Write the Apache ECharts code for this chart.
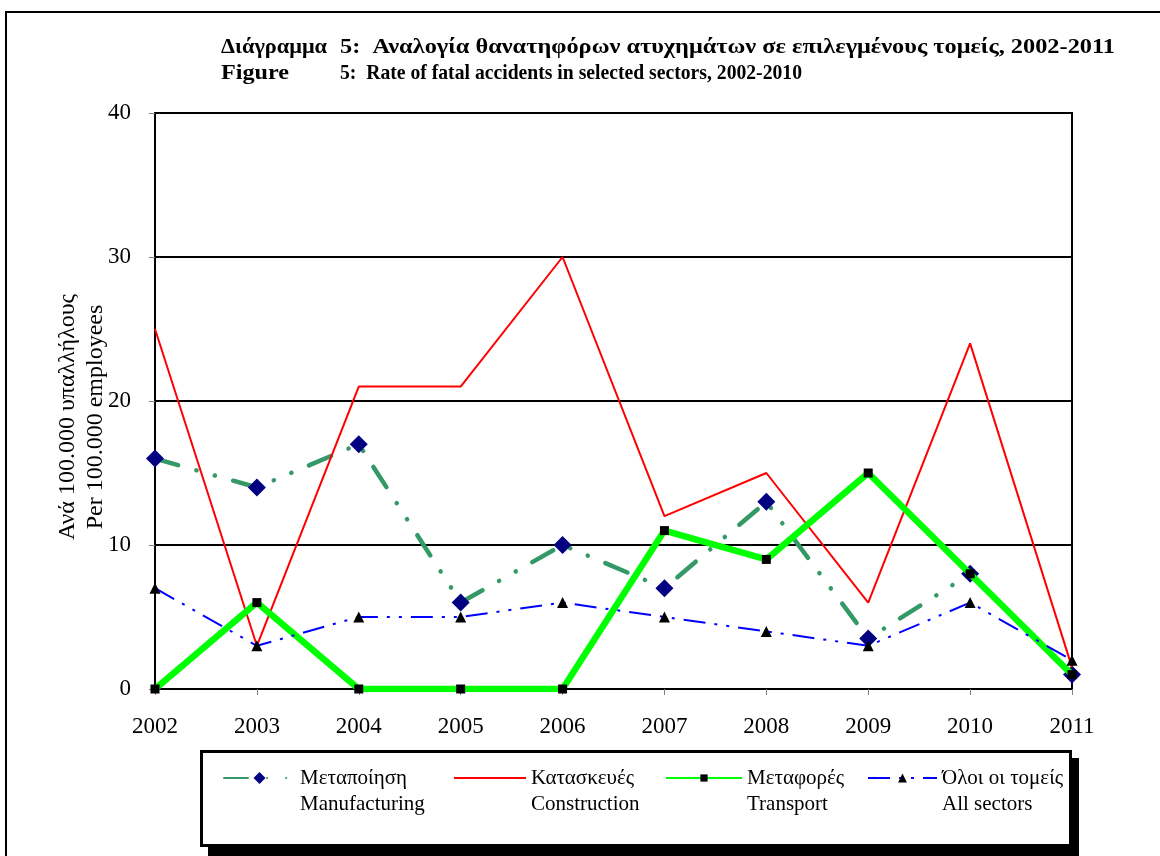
<!DOCTYPE html>
<html>
<head>
<meta charset="utf-8">
<script src="https://cdn.jsdelivr.net/npm/echarts@6/dist/echarts.min.js"></script>
<style>
  html, body { margin: 0; padding: 0; background: #fff; }
  #chart { width: 1160px; height: 856px; }
</style>
</head>
<body>
<div id="chart"></div>
<script>
// data
const years = ['2002', '2003', '2004', '2005', '2006', '2007', '2008', '2009', '2010', '2011'];
const manufacturing = [16, 14, 17, 6, 10, 7, 13, 3.5, 8, 1];
const construction = [25, 3, 21, 21, 30, 12, 15, 6, 24, 1.5];
const transport = [0, 6, 0, 0, 0, 11, 9, 15, 8, 1];
const allSectors = [7, 3, 5, 5, 6, 5, 4, 3, 6, 2];

const names = {
  man: ['Μεταποίηση', 'Manufacturing'],
  con: ['Κατασκευές', 'Construction'],
  tra: ['Μεταφορές', 'Transport'],
  all: ['Όλοι οι τομείς', 'All sectors'],
};

const FONT = 'Liberation Serif';
const TITLE_FONT = 'bold 22px "Liberation Serif"';

const chart = echarts.init(document.getElementById('chart'));

// the original title font is wider/narrower than ours, so stretch each piece to its span
const measureCtx = document.createElement('canvas').getContext('2d');
function titlePiece(text, x, y, targetWidth) {
  measureCtx.font = TITLE_FONT;
  const w = measureCtx.measureText(text).width;
  return {
    type: 'text', z: 5, x: x, y: y, scaleX: targetWidth / w, originX: 0,
    style: { text: text, font: TITLE_FONT, fill: '#000', textVerticalAlign: 'middle' },
  };
}

// one legend per entry so each can sit where it does in the original
function legendAt(key, left, itemWidth, itemHeight, hideSymbol) {
  return {
    data: [{ name: names[key][0], itemStyle: hideSymbol ? { opacity: 0 } : undefined }],
    left: left,
    top: 739,
    padding: 0,
    itemWidth: itemWidth,
    itemHeight: itemHeight,
    selectedMode: false,
    formatter: (n) => '\n' + n + '\n' + Object.values(names).find((v) => v[0] === n)[1],
    textStyle: { fontFamily: FONT, fontSize: 21, lineHeight: 26, color: '#000' },
  };
}

const option = {
  animation: false,
  legend: [
    legendAt('man', 223, 71, 15),
    legendAt('con', 453, 72, 10, true),
    legendAt('tra', 665, 76, 9),
    legendAt('all', 867, 69, 11),
  ],
  graphic: [
    { type: 'rect', z: 0, shape: { x: 6, y: 12, width: 1220, height: 920 },
      style: { fill: 'none', stroke: '#000', lineWidth: 2 } },
    { type: 'rect', z: 1, shape: { x: 208, y: 758, width: 871, height: 110 },
      style: { fill: '#000' } },
    { type: 'rect', z: 2, shape: { x: 201.5, y: 751.5, width: 869, height: 94 },
      style: { fill: '#fff', stroke: '#000', lineWidth: 3 } },
    titlePiece('Διάγραμμα', 221, 47, 106),
    titlePiece('5:  Αναλογία θανατηφόρων ατυχημάτων σε επιλεγμένους τομείς, 2002-2011', 340, 47, 775),
    titlePiece('Figure', 221, 73, 68),
    titlePiece('5:  Rate of fatal accidents in selected sectors, 2002-2010', 340, 73, 462),
  ],
  grid: {
    left: 155, top: 113, right: 88, bottom: 167,
    show: true, borderColor: '#000', borderWidth: 2, backgroundColor: 'transparent',
  },
  xAxis: {
    type: 'category',
    data: years,
    boundaryGap: false,
    axisLine: { lineStyle: { color: '#000', width: 2 } },
    axisTick: { length: 6, lineStyle: { color: '#808080' } },
    axisLabel: { fontFamily: FONT, fontSize: 23, color: '#000', margin: 26 },
  },
  yAxis: {
    type: 'value',
    min: 0, max: 40, interval: 10,
    name: 'Ανά 100.000 υπαλλήλους\nPer 100.000 employees',
    nameLocation: 'middle',
    nameGap: 45,
    nameMoveOverlap: false,
    nameTextStyle: { fontFamily: FONT, fontSize: 24, lineHeight: 28, color: '#000', padding: [0, 32, 0, 0] },
    axisLine: { show: true, lineStyle: { color: '#000', width: 2 } },
    axisTick: { show: true, length: 6, lineStyle: { color: '#808080' } },
    axisLabel: { fontFamily: FONT, fontSize: 23, color: '#000', margin: 24 },
    splitLine: { lineStyle: { color: '#000', width: 2 } },
  },
  series: [
    {
      name: names.man[0], type: 'line', data: manufacturing,
      symbol: 'diamond', symbolSize: 18,
      itemStyle: { color: '#000080' },
      lineStyle: { color: '#339966', width: 4.5, type: [24, 19, 0.1, 19, 0.1, 19], cap: 'round' },
      z: 2,
    },
    {
      name: names.con[0], type: 'line', data: construction,
      symbol: 'none',
      itemStyle: { color: '#ff0000' },
      lineStyle: { color: '#ff0000', width: 2 },
      z: 3,
    },
    {
      name: names.tra[0], type: 'line', data: transport,
      symbol: 'rect', symbolSize: 9,
      itemStyle: { color: '#000' },
      lineStyle: { color: '#00ff00', width: 6.5 },
      z: 4,
    },
    {
      name: names.all[0], type: 'line', data: allSectors,
      symbol: 'triangle', symbolSize: 11,
      itemStyle: { color: '#000' },
      lineStyle: { color: '#0000ff', width: 2, type: [22, 9, 3, 9, 3, 9] },
      z: 5,
    },
  ],
};

chart.setOption(option);
</script>
</body>
</html>
